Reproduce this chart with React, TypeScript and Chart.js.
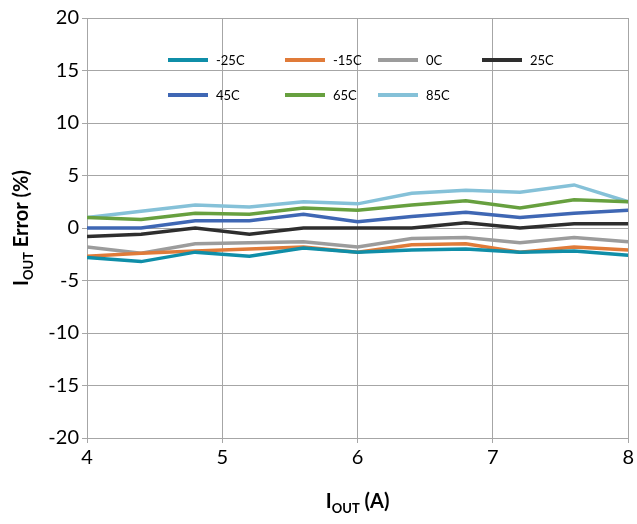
import { useEffect, useRef } from "react";
import Chart from "chart.js/auto";

const xValues: number[] = [4, 4.4, 4.8, 5.2, 5.6, 6, 6.4, 6.8, 7.2, 7.6, 8];
const seriesNames: string[] = ["-25C", "-15C", "0C", "25C", "45C", "65C", "85C"];
const seriesColors: string[] = ["#0f8ea8", "#e07b39", "#9c9c9c", "#2e2e2e", "#3f67b4", "#67a03f", "#85c1d8"];
const m25: number[] = [-2.8, -3.2, -2.3, -2.7, -1.9, -2.3, -2.1, -2.0, -2.3, -2.2, -2.6];
const m15: number[] = [-2.7, -2.4, -2.2, -2.0, -1.8, -2.3, -1.6, -1.5, -2.3, -1.8, -2.1];
const c0: number[] = [-1.8, -2.4, -1.5, -1.4, -1.3, -1.8, -1.0, -0.9, -1.4, -0.9, -1.3];
const c25: number[] = [-0.8, -0.6, 0.0, -0.6, 0.0, 0.0, 0.0, 0.5, 0.0, 0.4, 0.4];
const c45: number[] = [0.0, 0.0, 0.7, 0.7, 1.3, 0.6, 1.1, 1.5, 1.0, 1.4, 1.7];
const c65: number[] = [1.0, 0.8, 1.4, 1.3, 1.9, 1.7, 2.2, 2.6, 1.9, 2.7, 2.5];
const c85: number[] = [1.0, 1.6, 2.2, 2.0, 2.5, 2.3, 3.3, 3.6, 3.4, 4.1, 2.5];
const allSeries: number[][] = [m25, m15, c0, c25, c45, c65, c85];

const FONT = "Lato, 'Open Sans', sans-serif";

// axis titles with subscript OUT
const titlePlugin = {
  id: "subTitles",
  afterDraw(chart: any) {
    const ctx = chart.ctx;
    const a = chart.chartArea;
    const drawSub = (x: number, y: number, rest: string) => {
      ctx.font = `bold 20px ${FONT}`;
      const wI = ctx.measureText("I").width;
      ctx.font = `bold 13px ${FONT}`;
      const wS = ctx.measureText("OUT").width;
      ctx.font = `bold 20px ${FONT}`;
      const wR = ctx.measureText(rest).width;
      let cx = x - (wI + wS + wR) / 2;
      ctx.textAlign = "left";
      ctx.textBaseline = "alphabetic";
      ctx.fillText("I", cx, y);
      cx += wI;
      ctx.font = `bold 13px ${FONT}`;
      ctx.fillText("OUT", cx, y + 5);
      cx += wS;
      ctx.font = `bold 20px ${FONT}`;
      ctx.fillText(rest, cx, y);
    };
    ctx.save();
    ctx.fillStyle = "#000";
    drawSub((a.left + a.right) / 2, 508, " (A)");
    ctx.translate(28, (a.top + a.bottom) / 2);
    ctx.rotate(-Math.PI / 2);
    drawSub(0, 0, " Error (%)");
    ctx.restore();
  },
};

const legendPos: [number, number][] = [
  [168, 60], [285, 60], [378, 60], [482, 60],
  [168, 95], [285, 95], [378, 95],
];

const App: React.FC = () => {
  const chartRef = useRef<HTMLCanvasElement | null>(null);

  useEffect(() => {
    const chart = new Chart(chartRef.current!, {
      type: "line",
      data: {
        datasets: seriesNames.map((name, i) => ({
          label: name,
          data: xValues.map((x, j) => ({ x, y: allSeries[i][j] })),
          borderColor: seriesColors[i],
          backgroundColor: seriesColors[i],
          borderWidth: 3.5,
          pointRadius: 0,
          tension: 0,
        })),
      },
      options: {
        animation: false,
        responsive: false,
        layout: { padding: { top: 18, right: 8 } },
        plugins: { legend: { display: false }, tooltip: { enabled: false } },
        scales: {
          x: {
            type: "linear",
            min: 4,
            max: 8,
            ticks: { stepSize: 1, color: "#000", font: { family: FONT, size: 20 } },
            grid: { color: "#a6a6a6", drawTicks: true, tickLength: 5 },
            border: { color: "#a6a6a6" },
            afterFit: (s: any) => { s.height = 86; },
          },
          y: {
            min: -20,
            max: 20,
            ticks: { stepSize: 5, color: "#000", font: { family: FONT, size: 20 } },
            grid: { color: "#a6a6a6", tickLength: 5 },
            border: { color: "#a6a6a6" },
            afterFit: (s: any) => { s.width = 87; },
          },
        },
      } as any,
      plugins: [titlePlugin],
    });
    return () => chart.destroy();
  }, []);

  return (
    <div style={{ position: "absolute", left: 0, top: 0, width: 637, height: 524, background: "#fff" }}>
      <canvas ref={chartRef} width={637} height={524} />
      {seriesNames.map((n, i) => (
        <div
          key={n}
          style={{
            position: "absolute",
            left: legendPos[i][0],
            top: legendPos[i][1] - 8,
            display: "flex",
            alignItems: "center",
            fontFamily: FONT,
            fontSize: 13,
            color: "#000",
          }}
        >
          <span style={{ display: "inline-block", width: 40, height: 4, background: seriesColors[i], marginRight: 8 }} />
          {n}
        </div>
      ))}
    </div>
  );
};

export default App;
